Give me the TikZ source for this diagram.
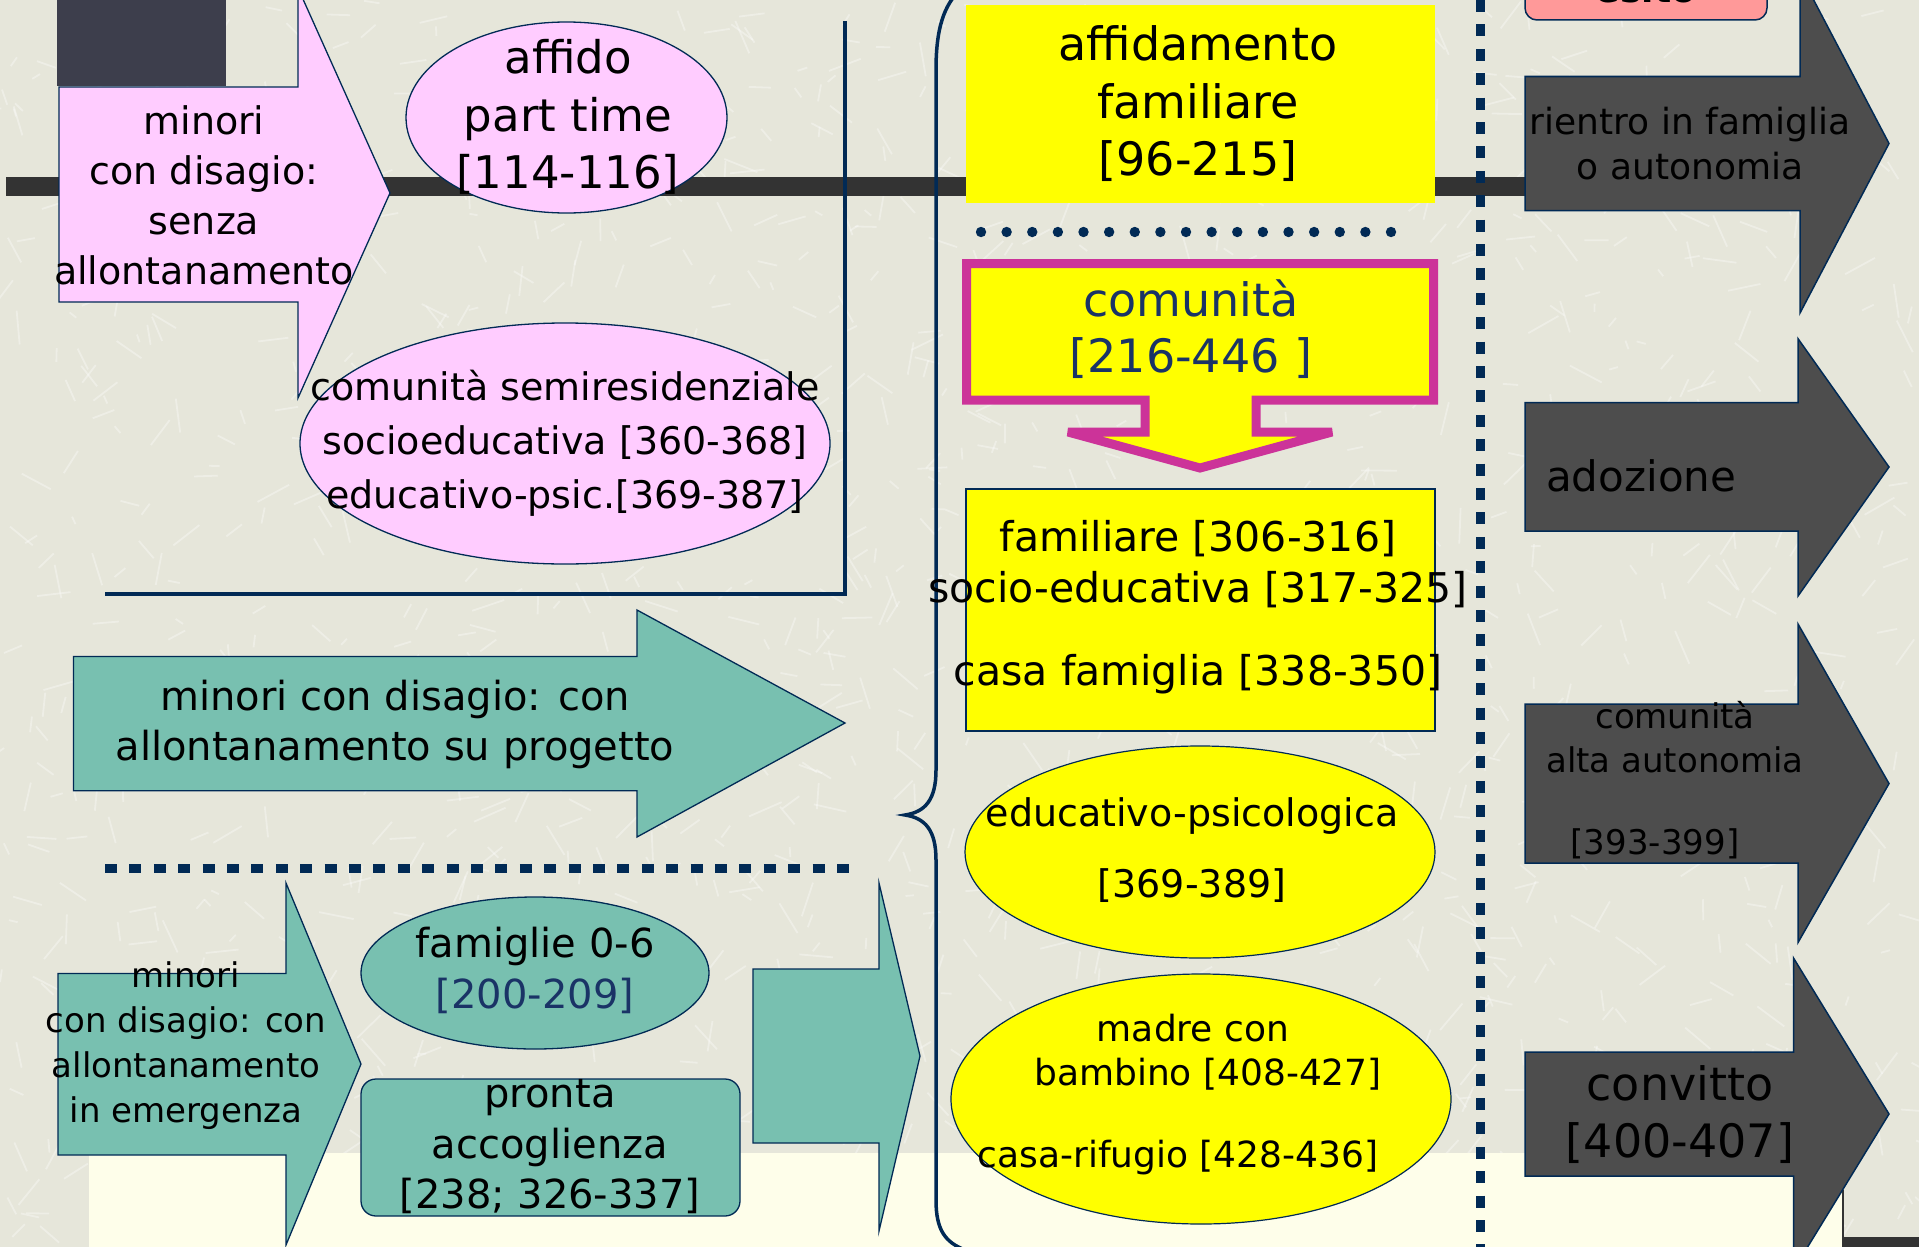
\documentclass[tikz,border=0pt]{standalone}
\usepackage{fontspec}
\setmainfont{DejaVu Sans}
\usetikzlibrary{shapes.geometric}
\definecolor{bgc}{HTML}{E6E6DA}
\definecolor{palec}{HTML}{FEFEEA}
\definecolor{barc}{HTML}{333333}
\definecolor{sqc}{HTML}{3D3E4C}
\definecolor{navyc}{HTML}{012A55}
\definecolor{navytext}{HTML}{1A3366}
\definecolor{pinkc}{HTML}{FFCCFF}
\definecolor{tealc}{HTML}{78C0B0}
\definecolor{darkc}{HTML}{4D4D4D}
\definecolor{magc}{HTML}{CC3399}
\definecolor{salmonc}{HTML}{FF9999}
\definecolor{yelc}{HTML}{FFFF00}
\newcommand\myfont[2]{\fontsize{#1}{#2}\selectfont}
\begin{document}
\begin{tikzpicture}[x=1pt,y=-1pt,
  streak/.style={draw=white, opacity=0.33, line width=1.8},
  pinkshape/.style={fill=pinkc, draw=navyc, line width=1.3},
  tealshape/.style={fill=tealc, draw=navyc, line width=1.3},
  darkshape/.style={fill=darkc, draw=navyc, line width=1.5},
  yellowbox/.style={fill=yelc, draw=navyc, line width=1.2},
  navyline/.style={draw=navyc, line width=3.5},
  sqdots/.style={draw=navyc, line width=9, dash pattern=on 12 off 12.4},
  txt/.style={inner sep=0, align=center, text=black}]
\useasboundingbox (0,0) rectangle (1919,1247);
\clip (0,0) rectangle (1919,1247);
% background
\fill[bgc] (0,0) rectangle (1919,1247);
\pgfmathsetseed{7}
\foreach \i in {1,...,1400}{
  \pgfmathsetmacro\xa{rnd*1919}
  \pgfmathsetmacro\ya{rnd*1247}
  \pgfmathsetmacro\an{rnd*180}
  \pgfmathsetmacro\le{8+rnd*28}
  \draw[streak] (\xa,\ya) -- ++(\an:\le);
}
\fill[palec] (89,1153) rectangle (1843,1247);
\fill[barc] (1843,1237) rectangle (1919,1247);
\draw[barc, line width=2] (1843,1190) -- (1843,1247);
% horizontal bar and dark square
\fill[barc] (6,177) rectangle (1525,196);
\fill[sqc] (57,0) rectangle (226,86);
% vertical dotted line
\coordinate (vtop) at (1480,0);
\coordinate (vbot) at (1480,1247);
\draw[sqdots] (vtop) -- (vbot);
% pink arrow
\draw[pinkshape] (59,87) -- (298,87) -- (298,-12) -- (390,193) -- (298,398) -- (298,302) -- (59,302) -- cycle;
\node[txt, font=\myfont{38}{50}] (minori1) at (204,195) {minori\\con disagio:\\senza\\allontanamento};
% pink ellipses
\draw[pinkshape] (566.5,117.5) ellipse [x radius=160.5, y radius=95.5];
\node[txt, font=\myfont{45}{57.5}] (affido) at (568,117) {affido\\part time\\{[114-116]}};
\draw[pinkshape] (565,443.5) ellipse [x radius=265, y radius=120.5];
\node[txt, font=\myfont{38}{54}] (semires) at (565,443) {comunità semiresidenziale\\socioeducativa [360-368]\\educativo-psic.[369-387]};
% L line
\coordinate (la) at (845,21);
\coordinate (lb) at (845,594);
\coordinate (lc) at (105,594);
\draw[navyline] (la) -- (lb) -- (lc);
% teal arrow progetto
\draw[tealshape] (73.5,656.5) -- (637,656.5) -- (637,610) -- (845,723) -- (637,837) -- (637,790.7) -- (73.5,790.7) -- cycle;
\node[txt, font=\myfont{40}{50}] (progetto) at (395,724) {minori con disagio: con\\allontanamento su progetto};
% dotted separator
\coordinate (da) at (105,868);
\coordinate (db) at (860,868);
\draw[sqdots] (da) -- (db);
% teal arrow emergency
\draw[tealshape] (58,973.5) -- (286,973.5) -- (286,883) -- (361,1064) -- (286,1245) -- (286,1155) -- (58,1155) -- cycle;
\node[txt, font=\myfont{34}{45}] (emerg) at (186,1046) {minori\\con disagio: con\\allontanamento\\in emergenza};
% teal ellipse and rounded box
\draw[tealshape] (535,973) ellipse [x radius=174, y radius=76];
\node[txt, font=\myfont{40}{51}] (famiglie) at (535,970) {famiglie 0-6\\{\color{navytext}[200-209]}};
\draw[tealshape, rounded corners=15] (361,1079) rectangle (740,1216);
\node[txt, font=\myfont{40}{50.5}] (pronta) at (550,1147) {pronta\\accoglienza\\{[238; 326-337]}};
% teal big arrow
\draw[tealshape] (753,969) -- (879,969) -- (879,883) -- (920,1056) -- (879,1231) -- (879,1143) -- (753,1143) -- cycle;
% brace
\draw[navyline] (962,-12) .. controls (943,5) and (936,30) .. (936,70) -- (936,770) .. controls (936,800) and (925,812) .. (905,815) .. controls (925,818) and (936,830) .. (936,860) -- (936,1200) .. controls (936,1230) and (945,1242) .. (965,1250);
% yellow affidamento
\fill[yelc] (966,5) rectangle (1435,203);
\node[txt, font=\myfont{46}{57.5}] (affidamento) at (1198,104) {affidamento\\familiare\\{[96-215]}};
% round dots
\foreach \i in {0,...,16} \fill[navyc] (981+\i*25.625,232) circle (5.2);
% comunita callout
\draw[line width=9, draw=magc, fill=yelc, line join=miter, miter limit=3] (966.5,263.5) -- (1433.5,263.5) -- (1433.5,400) -- (1256,400) -- (1256,432) -- (1332,432) -- (1200,468) -- (1068,432) -- (1145,432) -- (1145,400) -- (966.5,400) -- cycle;
\node[txt, font=\myfont{46}{56}, text=navytext] (comunita) at (1191,329) {comunità\\{[216-446 ]}};
% yellow box tipi comunita
\draw[yellowbox] (966,489) rectangle (1435,731);
\node[txt, font=\myfont{41}{51}] (tipi) at (1198,607) {familiare [306-316]\\socio-educativa [317-325]\\[32pt]casa famiglia [338-350]};
% yellow ellipses
\draw[yellowbox] (1200,852) ellipse [x radius=235, y radius=106];
\node[txt, font=\myfont{38}{71}] (edpsic) at (1192,850) {educativo-psicologica\\{[369-389]}};
\draw[yellowbox] (1201,1099) ellipse [x radius=250, y radius=125];
\node[txt, font=\myfont{36}{44}] (madre) at (1193,1095) {madre con\\\hspace*{30pt}bambino [408-427]\\[38pt]casa-rifugio [428-436]\hspace*{30pt}};
% salmon box
\draw[fill=salmonc, draw=navyc, line width=1.5, rounded corners=12] (1525,-40) rectangle (1767,20);
\node[txt, font=\myfont{36}{44}\bfseries, anchor=base] (esito) at (1646,3) {esito};
% dark arrows
\draw[darkshape] (1525,76.5) -- (1800,76.5) -- (1800,-26) -- (1889,143.5) -- (1800,313) -- (1800,210.5) -- (1525,210.5) -- cycle;
\node[txt, font=\myfont{36}{45}] (rientro) at (1690,143.5) {rientro in famiglia\\o autonomia};
\draw[darkshape] (1525,402.6) -- (1798,402.6) -- (1798,338.7) -- (1889,467) -- (1798,596) -- (1798,531) -- (1525,531) -- cycle;
\node[txt, font=\myfont{42}{50}, anchor=west] (adozione) at (1546,476) {adozione};
\draw[darkshape] (1525,704) -- (1798,704) -- (1798,624) -- (1889,783.6) -- (1798,942.5) -- (1798,863) -- (1525,863) -- cycle;
\node[txt, font=\myfont{34}{44}] (altaaut) at (1675,780) {comunità\\alta autonomia\\[38pt]\hspace*{-40pt}{[393-399]}};
\draw[darkshape] (1525,1052) -- (1793.5,1052) -- (1793.5,958) -- (1889,1114) -- (1793.5,1270) -- (1793.5,1176) -- (1525,1176) -- cycle;
\node[txt, font=\myfont{46}{57}] (convitto) at (1680,1114.5) {convitto\\{[400-407]}};
\end{tikzpicture}
\end{document}
